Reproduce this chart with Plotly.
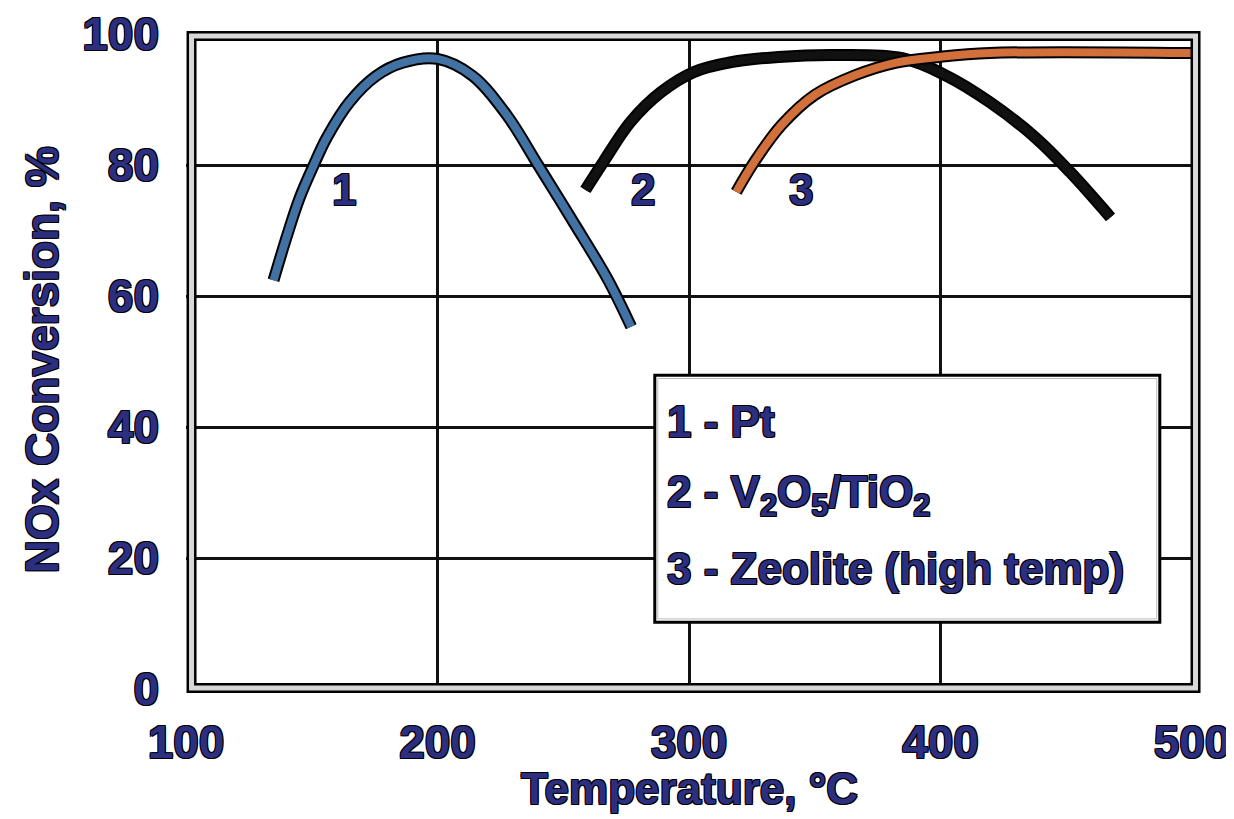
import plotly.graph_objects as go

# Data
pt_x = [134.8, 140, 145, 150.8, 156, 165, 175.6, 186, 200, 214, 227.6, 240, 254, 267.6, 277]
pt_y = [62.4, 69.0, 74.8, 80.0, 84.2, 89.6, 93.6, 95.6, 96.2, 93.6, 87.6, 80.0, 71.3, 62.6, 55.3]

v_x = [258.8, 266, 276.8, 288.8, 302, 316.8, 335.6, 358, 384.8, 402, 419.6, 438, 451.6, 467.6]
v_y = [76.2, 80.5, 86.6, 91.1, 94.2, 95.7, 96.5, 96.8, 96.3, 93.7, 89.6, 84.1, 78.9, 72.0]

z_x = [318.8, 326, 336.8, 350, 366, 382, 399.6, 419.6, 499.6]
z_y = [75.9, 80.5, 86.1, 90.7, 93.7, 95.6, 96.5, 97.1, 97.1]

curve_labels = ["1", "2", "3"]
curve_label_x = [162.8, 281.6, 344.4]
curve_label_y = [76.2, 76.2, 76.2]

legend_lines = ["1 - Pt", "2 - V<sub>2</sub>O<sub>5</sub>/TiO<sub>2</sub>", "3 - Zeolite (high temp)"]

x_ticks = [100, 200, 300, 400, 500]
y_ticks = [0, 20, 40, 60, 80, 100]

FONT = "Liberation Sans, Arial, sans-serif"
NAVY = "#2c2f80"
SHADOW = "1px 1px 0px #000, -1px -1px 0px #000, 1px -1px 0px #000, -1px 1px 0px #000"


def tf(size):
    return dict(family=FONT, size=size, color=NAVY, weight="bold", shadow=SHADOW)


fig = go.Figure()
for xs, ys, col in [(pt_x, pt_y, "#4272a3"), (v_x, v_y, "#111111"), (z_x, z_y, "#d2703c")]:
    fig.add_trace(go.Scatter(x=xs, y=ys, mode="lines", line=dict(color="#000", width=12, shape="spline"),
                             hoverinfo="skip", showlegend=False))
    fig.add_trace(go.Scatter(x=xs, y=ys, mode="lines", line=dict(color=col, width=8, shape="spline"),
                             showlegend=False))

for t, x, y in zip(curve_labels, curve_label_x, curve_label_y):
    fig.add_annotation(x=x, y=y, text=t, showarrow=False, xref="x", yref="y", font=tf(44))

# legend box
fig.add_shape(type="rect", xref="paper", yref="paper", x0=0.466, x1=0.968, y0=0.102, y1=0.479,
              line=dict(color="#000", width=3), fillcolor="white", layer="above")
fig.add_shape(type="rect", xref="paper", yref="paper", x0=0.469, x1=0.965, y0=0.107, y1=0.474,
              line=dict(color="#bbb", width=1), layer="above")
for i, t in enumerate(legend_lines):
    fig.add_annotation(x=0.476, y=0.408 - i * 0.112, xref="paper", yref="paper", text=t,
                       showarrow=False, xanchor="left", yanchor="middle", font=tf(44))

# double frame (black - gray - black)
fig.add_shape(type="rect", xref="paper", yref="paper", x0=0.0055, x1=1.0035, y0=0.0015, y1=0.997,
              line=dict(color="#000", width=10), layer="above")
fig.add_shape(type="rect", xref="paper", yref="paper", x0=0.0055, x1=1.0035, y0=0.0015, y1=0.997,
              line=dict(color="#d8d8d8", width=5), layer="above")

# axis titles
fig.add_annotation(x=0.5, y=-0.152, xref="paper", yref="paper", text="Temperature, °C",
                   showarrow=False, xanchor="center", yanchor="middle", font=tf(44))
fig.add_annotation(x=-0.143, y=0.502, xref="paper", yref="paper", text="NOx Conversion, %",
                   showarrow=False, textangle=-90, xanchor="center", yanchor="middle", font=tf(46))

# page has an 8px body margin, so the figure is shifted by 8px in both directions
fig.update_layout(
    width=1226, height=811,
    margin=dict(l=178, r=42, t=26, b=130),
    paper_bgcolor="white", plot_bgcolor="white",
    font=dict(family=FONT, color=NAVY),
    xaxis=dict(range=[100, 500], tickvals=x_ticks, showgrid=True, gridcolor="#111", gridwidth=3,
               zeroline=False, showline=False, automargin=False,
               ticks="", ticklabelstandoff=22, ticklabeloverflow="allow", tickfont=tf(46)),
    yaxis=dict(range=[0, 100], tickvals=y_ticks, showgrid=True, gridcolor="#111", gridwidth=3,
               zeroline=False, showline=False, automargin=False,
               ticks="", ticklabelstandoff=26, ticklabeloverflow="allow", tickfont=tf(46)),
)

fig.write_html("out.html")
